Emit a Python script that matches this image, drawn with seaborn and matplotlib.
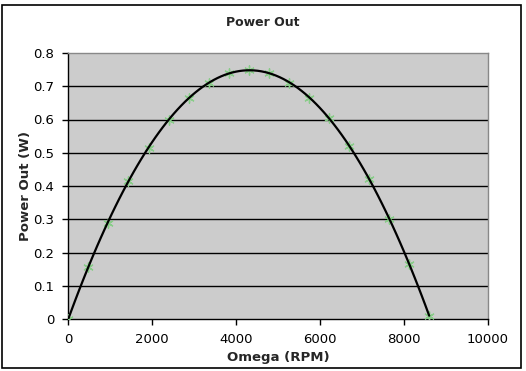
import matplotlib
matplotlib.use("Agg")
import matplotlib.pyplot as plt
import seaborn as sns
import pandas as pd
from matplotlib.patches import Rectangle

omega_rpm = [0, 480, 960, 1440, 1920, 2400, 2870, 3350, 3830, 4300,
             4780, 5260, 5740, 6220, 6700, 7170, 7650, 8130, 8600]
power_w = [0.0, 0.155, 0.29, 0.415, 0.515, 0.60, 0.665, 0.71, 0.74, 0.75,
           0.74, 0.71, 0.665, 0.605, 0.52, 0.42, 0.30, 0.165, 0.01]
x_ticks = [0, 2000, 4000, 6000, 8000, 10000]
y_ticks = [0, 0.1, 0.2, 0.3, 0.4, 0.5, 0.6, 0.7, 0.8]

df = pd.DataFrame({"Omega (RPM)": omega_rpm, "Power Out (W)": power_w})

sns.set_theme(style="white")
plt.rcParams['font.family'] = ['DejaVu Sans']

W, H = 526, 371
fig = plt.figure(figsize=(W / 100, H / 100), dpi=100)
ax = fig.add_axes([68 / W, 1 - 319 / H, (488 - 68) / W, (319 - 53) / H])
ax.set_facecolor("#cccccc")

sns.scatterplot(data=df, x="Omega (RPM)", y="Power Out (W)", ax=ax,
                marker=(6, 2, 0), s=45, color="#88cc88", edgecolor="#88cc88",
                linewidth=1.0, zorder=3)
sns.regplot(data=df, x="Omega (RPM)", y="Power Out (W)", ax=ax, order=3,
            ci=None, scatter=False, truncate=True,
            line_kws={"color": "black", "lw": 1.6, "zorder": 4})

ax.set_xlim(0, 10000)
ax.set_ylim(0, 0.8)
ax.set_xticks(x_ticks)
ax.set_xticklabels([str(v) for v in x_ticks])
ax.set_yticks(y_ticks)
ax.set_yticklabels(["0"] + [f"{v:.1f}" for v in y_ticks[1:]])

for v in y_ticks[1:-1]:
    ax.axhline(v, color="black", lw=1.0, zorder=1)

for s in ["top", "right"]:
    ax.spines[s].set_color("#888888")
    ax.spines[s].set_linewidth(1.0)
for s in ["left", "bottom"]:
    ax.spines[s].set_color("black")
    ax.spines[s].set_linewidth(1.0)

ax.tick_params(axis="both", which="major", direction="out", length=4,
               width=1, color="black", labelsize=9.5, labelcolor="black",
               bottom=True, left=True, pad=6)

ax.set_xlabel("Omega (RPM)", fontsize=9.5, fontweight="bold", labelpad=4)
ax.set_ylabel("Power Out (W)", fontsize=9.5, fontweight="bold", labelpad=1)
fig.text(263 / W, 1 - 22 / H, "Power Out", ha="center", va="center",
         fontsize=9, fontweight="bold")

fig.patches.append(Rectangle((2 / W, 3 / H), (521 - 2) / W, (367 - 4) / H,
                             transform=fig.transFigure, fill=False,
                             edgecolor="black", lw=1.2))

fig.savefig("out.png", dpi=100)
